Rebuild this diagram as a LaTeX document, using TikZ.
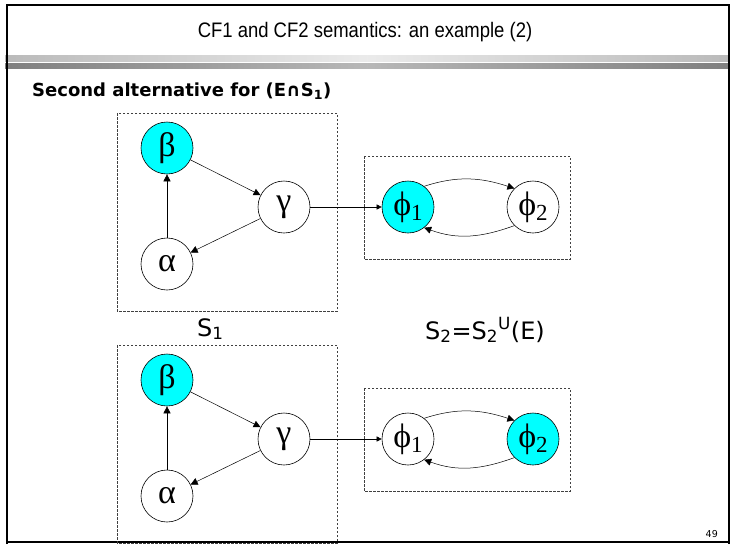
\documentclass[tikz,border=0pt]{standalone}
\usepackage{fontspec}
\setmainfont{DejaVu Sans}
\newfontfamily\titlefont[FakeStretch=0.88]{Liberation Sans}
\newfontfamily\grkserif{Liberation Serif}
\usetikzlibrary{arrows.meta}
\definecolor{aqua}{RGB}{0,255,255}
\tikzset{
  circ/.style={circle, draw, line width=0.6pt, minimum size=52pt, inner sep=0pt,
    font=\grkserif\fontsize{34}{34}\selectfont},
  hot/.style={fill=aqua},
  arr/.style={-{Triangle[length=7pt,width=7pt]}, line width=0.5pt},
  sarr/.style={-{Triangle[length=5pt,width=5pt]}, line width=0.5pt},
  dbox/.style={draw=black!75, dash pattern=on 2.5pt off 1.5pt, line width=0.6pt},
  lbl/.style={font=\fontsize{24}{24}\selectfont, inner sep=0pt}
}
\newcommand{\phisub}[1]{ϕ\raisebox{-5pt}{\fontsize{23}{23}\selectfont #1}}
\begin{document}
\begin{tikzpicture}[x=1pt,y=-1pt]
\useasboundingbox (0,0) rectangle (731,544);
% title bars
\shade[left color=black!27, right color=black!27, middle color=black!8] (5,55) rectangle (729,61.5);
\shade[left color=black!50, right color=black!50, middle color=black!28] (5,63) rectangle (729,68);
% frame
\draw[line width=2pt] (7,544) -- (7,5) -- (729,5) -- (729,544);
\draw[line width=2pt] (6,542) -- (730,542);
% title
\node[font=\titlefont\fontsize{21}{21}\selectfont, anchor=base, inner sep=0pt] (title) at (365,37) {CF1 and CF2 semantics: an example (2)};
\node[font=\bfseries\fontsize{18}{18}\selectfont, anchor=base west, inner sep=0pt] (sub) at (32,96) {Second alternative for (E∩S\textsubscript{1})};
% ---------- top diagram ----------
\draw[dbox] (117,113) rectangle (337,311);
\draw[dbox] (364,156) rectangle (570,259);
\node[circ,hot] (b1) at (167,148) {β};
\node[circ] (g1) at (284,207) {γ};
\node[circ] (a1) at (167,264) {α};
\node[circ,hot] (p1) at (408,207) {\phisub{1}};
\node[circ] (q1) at (533,207) {\phisub{2}};
\draw[arr] (a1) -- (b1);
\draw[arr] (b1) -- (g1);
\draw[arr] (g1) -- (a1);
\draw[sarr] (g1) -- (p1);
\draw[arr] (p1.52) to[out=18,in=162] (q1.135);
\draw[arr] (q1.-135) to[out=-160,in=-20] (p1.-52);
% labels
\node[lbl, anchor=base west] (s1) at (197,336) {S\textsubscript{1}};
\node[lbl, anchor=base west] (s2) at (425,339) {S\textsubscript{2}=S\textsubscript{2}\textsuperscript{U}(E)};
% ---------- bottom diagram ----------
\draw[dbox] (117,345) rectangle (337,543);
\draw[dbox] (364,388) rectangle (570,491);
\node[circ,hot] (b2) at (167,380) {β};
\node[circ] (g2) at (284,439) {γ};
\node[circ] (a2) at (167,496) {α};
\node[circ] (p2) at (408,439) {\phisub{1}};
\node[circ,hot] (q2) at (533,439) {\phisub{2}};
\draw[arr] (a2) -- (b2);
\draw[arr] (b2) -- (g2);
\draw[arr] (g2) -- (a2);
\draw[sarr] (g2) -- (p2);
\draw[arr] (p2.52) to[out=18,in=162] (q2.135);
\draw[arr] (q2.-135) to[out=-160,in=-20] (p2.-52);
% page number
\node[font=\fontsize{9.5}{9.5}\selectfont, anchor=base east, inner sep=0pt] (pg) at (718,537) {49};
\end{tikzpicture}
\end{document}
